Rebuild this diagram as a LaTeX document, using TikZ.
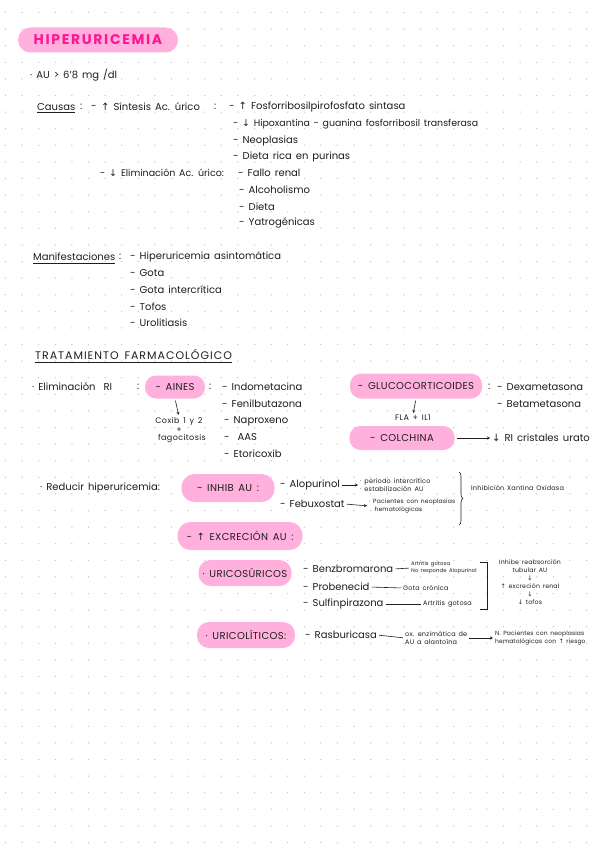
\documentclass[tikz,border=0pt]{standalone}
\usepackage{fontspec}
\setmainfont{Poppins}[WordSpace=1.5]
\newfontfamily\symf{DejaVu Sans}
\usetikzlibrary{decorations.pathreplacing,arrows.meta}
\definecolor{pinkfill}{HTML}{FFB0DC}
\definecolor{hotpink}{HTML}{FF1493}
\definecolor{ink}{HTML}{1E1E1E}
\definecolor{dotc}{HTML}{C8C8C8}
\newcommand{\UpA}{{\symf ↑}}
\newcommand{\DnA}{{\symf ↓}}
\begin{document}
\begin{tikzpicture}[x=1pt,y=-1pt,
  txt/.style={anchor=west,inner sep=0pt,text=ink,font=\fontsize{10}{11}\selectfont},
  mid/.style={inner sep=0pt,text=ink,font=\fontsize{8}{9}\selectfont\addfontfeatures{LetterSpace=5}},
  sm/.style={anchor=west,inner sep=0pt,text=ink,font=\fontsize{6.5}{7.8}\selectfont\addfontfeatures{LetterSpace=3},align=left},
  pill/.style={fill=pinkfill,rounded corners=11pt,inner sep=0pt,text=ink,font=\fontsize{10}{11}\selectfont\addfontfeatures{LetterSpace=4}},
  arr/.style={-{Stealth[length=3pt,width=3pt]},ink,line width=0.6pt,shorten <=2pt,shorten >=2pt},
  ln/.style={ink,line width=0.6pt,shorten <=2pt,shorten >=2pt},
  uline/.style={ink,line width=0.6pt}]
\fill[white] (0,0) rectangle (599,848);
\useasboundingbox (0,0) rectangle (599,848);
\foreach \i in {0,...,35}{\foreach \j in {0,...,50}{\fill[dotc] ({5.5+16.6*\i},{12.5+16.6*\j}) circle (0.75pt);}}
% title
\node[fill=pinkfill,rounded corners=12.5pt,minimum width=160pt,minimum height=25pt,inner sep=0pt,text=hotpink,font=\fontsize{14}{15}\selectfont\bfseries\addfontfeatures{LetterSpace=12}] (title) at (98,40) {HIPERURICEMIA};
\node[txt] (au) at (30,75) {· AU > 6'8 mg /dl};
% causas
\node[txt] (causas) at (37,107) {Causas};
\draw[uline] ([yshift=-2pt]causas.south west) -- ([yshift=-2pt]causas.south east);
\node[txt] (c1col) at (80,107) {: \ -};
\node[txt] (c1) at (101,107) {\UpA\ Síntesis Ac. úrico};
\node[txt] (c1col2) at (214,107) {:};
\node[txt] (c1a) at (229,107) {- \UpA\ Fosforribosilpirofosfato sintasa};
\node[txt,font=\fontsize{9.4}{10}\selectfont] (c1b) at (233,124) {- \DnA\ Hipoxantina - guanina fosforribosil transferasa};
\node[txt] (c1c) at (233,141) {- Neoplasias};
\node[txt] (c1d) at (233,157) {- Dieta rica en purinas};
\node[txt,font=\fontsize{9.5}{10}\selectfont] (c2) at (100,173) {- \DnA\ Eliminación Ac. úrico:};
\node[txt] (c2a) at (238,173) {- Fallo renal};
\node[txt] (c2b) at (239,190) {- Alcoholismo};
\node[txt] (c2c) at (239,207) {- Dieta};
\node[txt] (c2d) at (239,223) {- Yatrogénicas};
% manifestaciones
\node[txt] (manif) at (33,257) {Manifestaciones};
\draw[uline] ([yshift=-2pt]manif.south west) -- ([yshift=-2pt]manif.south east);
\node[txt] (mcolon) at (119,257) {:};
\node[txt] (m1) at (130,257) {- Hiperuricemia asintomática};
\node[txt] (m2) at (130,273) {- Gota};
\node[txt] (m3) at (130,290) {- Gota intercrítica};
\node[txt] (m4) at (130,307) {- Tofos};
\node[txt] (m5) at (130,323) {- Urolitiasis};
% tratamiento
\node[txt,font=\fontsize{11}{12}\selectfont\addfontfeatures{LetterSpace=9}] (trat) at (35,354) {TRATAMIENTO FARMACOLÓGICO};
\draw[ink,line width=1.1pt] ([yshift=-3pt]trat.south west) -- ([yshift=-3pt]trat.south east);
% eliminacion RI
\node[txt] (elim) at (32,387) {· Eliminación \ RI};
\node[txt] (ecolon) at (137,387) {:};
\node[pill,minimum width=60pt,minimum height=23pt] (aines) at (175,387) {- AINES};
\node[txt] (acolon) at (209,387) {:};
\node[txt] (a1) at (222,387) {- Indometacina};
\node[txt] (a2) at (222,404) {- Fenilbutazona};
\node[txt] (a3) at (224,421) {- Naproxeno};
\node[txt] (a4) at (224,437) {- \ AAS};
\node[txt] (a5) at (224,454) {- Etoricoxib};
\node[mid] (coxib) at (179,421) {Coxib 1 y 2};
\node[mid] (plus) at (179,430) {+};
\node[mid] (fago) at (182,439) {fagocitosis};
\draw[arr] (aines.south) -- (coxib.north);
\node[pill,minimum width=132pt,minimum height=25pt] (gluco) at (416,386) {- GLUCOCORTICOIDES};
\node[txt] (gcolon) at (488,387) {:};
\node[txt] (dexa) at (497,387) {- Dexametasona};
\node[txt] (beta) at (497,404) {- Betametasona};
\node[mid] (fla) at (413,418) {FLA + IL1};
\draw[arr] (gluco.south) -- (fla.north);
\node[pill,minimum width=105pt,minimum height=24pt] (colch) at (402,438) {- COLCHINA};
\node[txt] (ri) at (492,438) {\DnA\ RI cristales urato};
\draw[arr] (colch.east) -- (ri.west);
% reducir
\node[txt] (red) at (40,488) {· Reducir hiperuricemia:};
\node[pill,minimum width=93pt,minimum height=28pt,rounded corners=13pt] (inhib) at (228,488) {- INHIB AU :};
\node[txt] (alop) at (280,485) {- Alopurinol};
\node[sm] (perio) at (360,485) {· periodo intercrítico\\· estabilización AU};
\draw[arr] (alop.east) -- (perio.west);
\node[txt] (febu) at (280,504) {- Febuxostat};
\node[sm,font=\fontsize{6}{7.2}\selectfont\addfontfeatures{LetterSpace=3}] (pac) at (369,506) {· Pacientes con neoplasias\\\ \ hematológicas};
\draw[arr] (febu.east) -- (pac.west);
\coordinate (b1) at (459,472);
\coordinate (b2) at (459,525);
\draw[ink,line width=0.6pt,decorate,decoration={brace,amplitude=4pt}] (b1) -- (b2);
\node[sm] (xo) at (471,488) {Inhibición Xantina Oxidasa};
\node[pill,minimum width=125pt,minimum height=28pt,rounded corners=13pt] (excr) at (240,536) {- \UpA\ EXCRECIÓN AU :};
% uricosuricos
\node[pill,minimum width=93pt,minimum height=26pt,rounded corners=12pt] (urics) at (245,573) {· URICOSÚRICOS};
\node[txt] (benz) at (303,569) {- Benzbromarona};
\node[sm,font=\fontsize{5.3}{7}\selectfont\addfontfeatures{LetterSpace=2}] (benzn) at (411,568) {Artritis gotosa\\No responde Alopurinol};
\draw[ln] (benz.east) -- (benzn.west);
\node[txt] (prob) at (303,587) {- Probenecid};
\node[sm] (probn) at (403,588) {Gota crónica};
\draw[ln] (prob.east) -- (probn.west);
\node[txt] (sulf) at (303,604) {- Sulfinpirazona};
\node[sm] (sulfn) at (423,604) {Artritis gotosa};
\draw[ln] (sulf.east) -- (sulfn.west);
\coordinate (k1) at (480,562);
\coordinate (k2) at (487,562);
\coordinate (k3) at (487,609);
\coordinate (k4) at (480,609);
\draw[uline] (k1) -- (k2) -- (k3) -- (k4);
\node[sm,align=center,anchor=north,font=\fontsize{6.2}{8}\selectfont\addfontfeatures{LetterSpace=3}] (reab) at (530,559) {Inhibe reabsorción\\tubular AU\\\DnA\\\UpA\ excreción renal\\\DnA\\\DnA\ tofos};
% uricoliticos
\node[pill,minimum width=98pt,minimum height=26pt,rounded corners=12pt] (urilit) at (246,635) {· URICOLÍTICOS:};
\node[txt] (rasb) at (305,635) {- Rasburicasa};
\node[sm] (ox) at (405,638) {ox. enzimática de\\AU a alantoína};
\draw[ln] (rasb.east) -- (ox.west);
\node[sm,font=\fontsize{6}{7.4}\selectfont\addfontfeatures{LetterSpace=2}] (np) at (495,638) {N. Pacientes con neoplasias\\hematológicas con \UpA\ riesgo};
\draw[arr] (ox.east) -- (np.west);
\end{tikzpicture}
\end{document}
